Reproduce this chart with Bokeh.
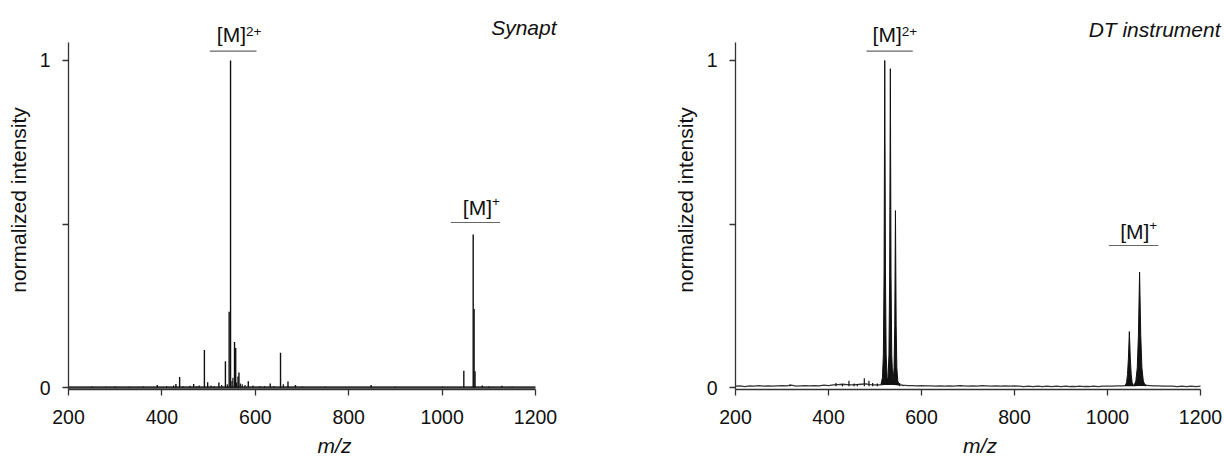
from bokeh.plotting import figure
from bokeh.layouts import row
from bokeh.models import FixedTicker, Range1d, Label
from bokeh.embed import file_html
from bokeh.resources import INLINE

# ---------------- data ----------------
x_ticks = [200, 400, 600, 800, 1000, 1200]
y_ticks = [0, 0.5, 1]
y_tick_labels = {0: "0", 0.5: "", 1: "1"}

# Synapt: centroid (stick) spectrum
syn_mz = [390, 430, 438, 468, 491, 498, 522, 536, 544, 547, 555.5, 558, 563, 565,
          585, 632, 654, 670, 686, 848, 1046.5, 1066.6, 1068.5, 1070.5, 1086, 1128]
syn_int = [0.008, 0.011, 0.032, 0.011, 0.115, 0.016, 0.015, 0.080, 0.232, 1.0, 0.139, 0.121, 0.034, 0.046,
           0.019, 0.012, 0.106, 0.018, 0.008, 0.008, 0.051, 0.468, 0.240, 0.050, 0.006, 0.005]
syn_noise_mz = [250, 280, 300, 330, 360, 410, 425, 445, 460, 475, 480, 505, 512, 528, 540, 550,
                552, 560, 568, 572, 578, 595, 610, 620, 640, 660, 700, 750, 900, 1000, 1100, 1150]
syn_noise_int = [0.003, 0.002, 0.003, 0.002, 0.003, 0.004, 0.006, 0.004, 0.005, 0.004, 0.006, 0.006, 0.004,
                 0.008, 0.010, 0.020, 0.030, 0.015, 0.012, 0.010, 0.008, 0.006, 0.004, 0.004, 0.004, 0.010,
                 0.003, 0.002, 0.002, 0.002, 0.003, 0.002]

# DT instrument: profile spectrum
dt_base_mz = list(range(200, 1201, 10))
dt_base_int = [0.004, 0.005, 0.003, 0.005, 0.004, 0.006, 0.004, 0.005, 0.004, 0.005,
               0.006, 0.005, 0.007, 0.004, 0.005, 0.006, 0.005, 0.006, 0.005, 0.007,
               0.006, 0.008, 0.009, 0.010, 0.009, 0.008, 0.009, 0.010, 0.011, 0.009,
               0.008, 0.008, 0.010, 0.010, 0.010, 0.009, 0.007, 0.006, 0.006, 0.005,
               0.006, 0.005, 0.005, 0.004, 0.005, 0.004, 0.005, 0.004, 0.006, 0.005,
               0.004, 0.005, 0.004, 0.006, 0.005, 0.004, 0.005, 0.004, 0.005, 0.004,
               0.005, 0.004, 0.003, 0.004, 0.003, 0.004, 0.003, 0.004, 0.003, 0.004,
               0.003, 0.004, 0.003, 0.003, 0.004, 0.003, 0.003, 0.004, 0.003, 0.004,
               0.004, 0.004, 0.005, 0.005, 0.006, 0.006, 0.006, 0.007, 0.007, 0.006,
               0.005, 0.005, 0.004, 0.004, 0.004, 0.003, 0.004, 0.003, 0.004, 0.003, 0.004]
dt_spike_mz = [317, 416, 430, 444, 455, 462, 477, 487, 495, 505, 553, 560, 685, 1082]
dt_spike_int = [0.009, 0.014, 0.010, 0.021, 0.012, 0.011, 0.028, 0.021, 0.014, 0.012, 0.014, 0.008, 0.007, 0.009]
dt_peak_mz = [
    [513, 516, 518, 519.5, 521, 522.5, 524, 526, 529],
    [525, 528, 530, 531.5, 533, 534.5, 536, 538, 541],
    [536, 539, 541, 542.5, 544, 545.5, 547, 549, 552],
    [1038, 1041, 1043, 1045, 1047, 1049, 1051, 1053, 1056],
    [1057, 1061, 1064, 1066.5, 1069, 1071.5, 1074, 1077, 1081],
]
dt_peak_int = [
    [0.01, 0.03, 0.10, 0.35, 1.0, 0.35, 0.10, 0.03, 0.01],
    [0.01, 0.03, 0.10, 0.34, 0.975, 0.34, 0.10, 0.03, 0.01],
    [0.01, 0.02, 0.06, 0.19, 0.541, 0.19, 0.06, 0.02, 0.008],
    [0.006, 0.015, 0.04, 0.09, 0.171, 0.09, 0.04, 0.015, 0.006],
    [0.006, 0.02, 0.06, 0.16, 0.353, 0.16, 0.06, 0.02, 0.006],
]

# annotation texts
syn_title = "Synapt"
dt_title = "DT instrument"
ion_main = "[M]"
ion_sup2 = "2+"
ion_sup1 = "+"

FONT = "Liberation Sans"
INK = "#111111"
AXIS = "#333333"

Y0 = -0.0061
Y1 = 1.1529
AXIS_TOP = 1.055


def base_fig(width, left, x_end):
    p = figure(width=width, height=459, output_backend="svg", toolbar_location=None,
               x_range=Range1d(200, x_end), y_range=Range1d(Y0, Y1),
               min_border_left=left, min_border_right=0, min_border_top=10, min_border_bottom=70)
    p.outline_line_color = None
    p.xgrid.visible = False
    p.ygrid.visible = False
    p.background_fill_color = "white"
    p.border_fill_color = "white"
    for ax in (p.xaxis[0], p.yaxis[0]):
        ax.axis_line_color = AXIS
        ax.axis_line_width = 1.3
        ax.major_tick_line_color = AXIS
        ax.major_tick_line_width = 1.3
        ax.major_tick_in = 0
        ax.major_tick_out = 6
        ax.minor_tick_line_color = None
        ax.major_label_text_font = FONT
        ax.major_label_text_font_size = "19.5px"
        ax.major_label_text_color = INK
        ax.axis_label_text_font = FONT
        ax.axis_label_text_font_size = "21px"
        ax.axis_label_text_color = INK
    p.xaxis.ticker = FixedTicker(ticks=x_ticks)
    p.xaxis.bounds = (200, 1200)
    p.xaxis.axis_label = "m/z"
    p.xaxis.axis_label_text_font_style = "italic"
    p.xaxis.major_label_standoff = 14
    p.xaxis.axis_label_standoff = 7
    p.yaxis.ticker = FixedTicker(ticks=y_ticks)
    p.yaxis.major_label_overrides = y_tick_labels
    p.yaxis.bounds = (Y0, AXIS_TOP)
    p.yaxis.axis_label = "normalized intensity"
    p.yaxis.axis_label_text_font_style = "normal"
    p.yaxis.major_label_standoff = 12
    p.yaxis.axis_label_standoff = 7
    return p


def ion_label(p, x_join, y_mid, sup, sup_off, line_x0, line_x1, line_y):
    p.add_layout(Label(x=x_join, y=y_mid, text=ion_main, text_align="right", text_baseline="middle",
                       text_font=FONT, text_font_size="21px", text_color=INK))
    p.add_layout(Label(x=x_join, y=y_mid, y_offset=sup_off, text=sup, text_align="left",
                       text_baseline="middle", text_font=FONT, text_font_size="13.5px", text_color=INK))
    p.segment(x0=[line_x0], y0=[line_y], x1=[line_x1], y1=[line_y], line_color="#666666", line_width=1.2)


def title_label(p, x, y, text):
    p.add_layout(Label(x=x, y=y, text=text, text_align="right", text_baseline="middle",
                       text_font=FONT, text_font_size="21px", text_font_style="italic", text_color=INK))


# ---------------- left: Synapt ----------------
s1 = 0.467
p1 = base_fig(600, 68, 200 + 532 / s1)
p1.segment(x0=[200], y0=[0], x1=[1200], y1=[0], line_color="#333333", line_width=2.5)
p1.segment(x0=syn_noise_mz, y0=[0] * len(syn_noise_mz), x1=syn_noise_mz, y1=syn_noise_int,
           line_color=INK, line_width=1.2)
p1.segment(x0=syn_mz, y0=[0] * len(syn_mz), x1=syn_mz, y1=syn_int, line_color=INK, line_width=1.4)
ion_label(p1, 580, 1.0807, ion_sup2, 3, 502.6, 602.6, 1.0284)
ion_label(p1, 1106.9, 0.549, ion_sup1, 6, 1018.6, 1124, 0.5046)
title_label(p1, 1245, 1.1018, syn_title)

# ---------------- right: DT instrument ----------------
s2 = 0.465
p2 = base_fig(624, 135, 200 + 489 / s2)
p2.line(dt_base_mz, dt_base_int, line_color="#333333", line_width=1.3)
p2.segment(x0=dt_spike_mz, y0=[0.004] * len(dt_spike_mz), x1=dt_spike_mz, y1=dt_spike_int,
           line_color=INK, line_width=1.2)
p2.patches(dt_peak_mz, dt_peak_int, fill_color=INK, line_color=INK, line_width=1.0)
ion_label(p2, 557.6, 1.0807, ion_sup2, 3, 481.7, 581.3, 1.0284)
ion_label(p2, 1089.9, 0.477, ion_sup1, 6, 1002.8, 1109, 0.4343)
title_label(p2, 1243, 1.0963, dt_title)

layout = row(p1, p2)
open("out.html", "w").write(file_html(layout, INLINE))
